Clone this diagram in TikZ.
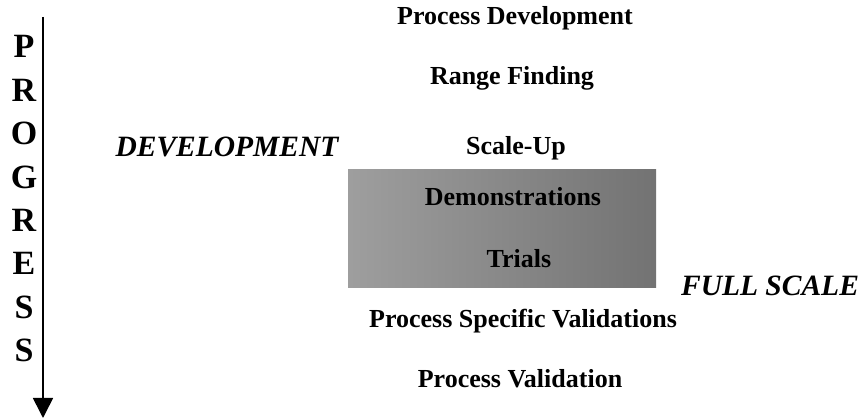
\documentclass[tikz,border=0pt]{standalone}
\usepackage{fontspec}
\setmainfont{Liberation Serif}
\usetikzlibrary{arrows.meta}

\begin{document}
\begin{tikzpicture}[x=1pt, y=-1pt,
		stage/.style={
			anchor=base,
			font=\fontsize{26}{30}\selectfont\bfseries
		},
		phase/.style={
			anchor=base,
			font=\fontsize{29.5}{32}\selectfont\bfseries\itshape
		},
		letter/.style={
			anchor=base,
			font=\fontsize{34}{36}\selectfont\bfseries
		},
		arrow/.style={-{Triangle[width=20pt,length=20pt]}, line width=1.6pt}]

		\useasboundingbox (0,0) rectangle (860,419);

		% shaded band behind the full scale stages
		\fill[left color=black!38, right color=black!55] (348,170) rectangle (656,288);

		\node [stage] (procdev) at (515,25) {Process Development};
		\node [stage] (range) at (512,85) {Range Finding};
		\node [stage] (scaleup) at (516,155) {Scale-Up};
		\node [stage] (demo) at (513,206) {Demonstrations};
		\node [stage] (trials) at (519,268) {Trials};
		\node [stage] (specific) at (523,328) {Process Specific Validations};
		\node [stage] (validation) at (520,388) {Process Validation};

		\node [phase] (devel) at (227,157) {DEVELOPMENT};
		\node [phase] (full) at (770,296) {FULL SCALE};

		\foreach \l [count=\i from 0] in {P,R,O,G,R,E,S,S}
			\node [letter] (l\i) at (24,58+43.4*\i) {\l};

		\coordinate (top) at (43,17);
		\coordinate (tip) at (43,418);
		\draw [arrow] (top) -- (tip);
	\end{tikzpicture}
\end{document}
